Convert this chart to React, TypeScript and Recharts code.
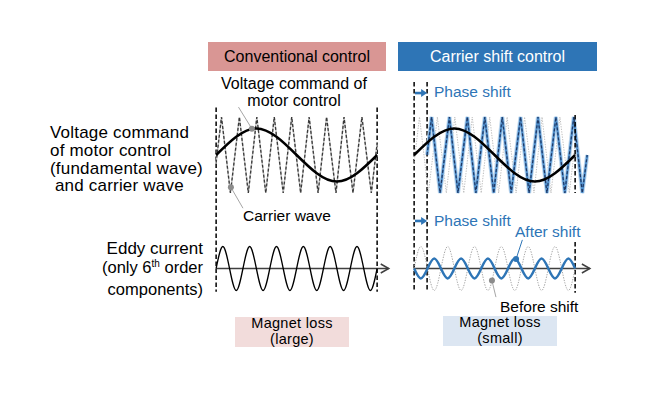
import React from 'react';
import { LineChart, Line, XAxis, YAxis, ReferenceLine, ReferenceDot } from 'recharts';

// ---------------- data (x in electrical degrees of the fundamental) ----------------
const fundDeg = [0, 90, 180, 270, 360];
const fundVal = [0, 0.7, 0, -0.7, 0];

const carrierDeg = [0, 12, 32, 52, 72, 91, 111, 130, 150, 169, 189, 208, 228, 247, 268, 286, 306, 326, 347, 360];
const carrierVal = [-0.2, 1, -1, 1, -1, 1, -1, 1, -1, 1, -1, 1, -1, 1, -1, 1, -1, 1, -1, 0.3];

const shiftedDeg = [29, 39, 58, 79, 98, 119, 138, 158, 178, 197, 217, 238, 257, 277, 297, 317, 337, 357, 376, 387];
const shiftedVal = [0, 1, -1, 1, -1, 1, -1, 1, -1, 1, -1, 1, -1, 1, -1, 1, -1, 1, -1, 0];

const eddyDeg = [0, 15, 30, 45, 60, 75, 90, 105, 120, 135, 150, 165, 180, 195, 210, 225, 240, 255, 270, 285, 300, 315, 330, 345, 360];
const eddyBefore = [0, 1, 0, -1, 0, 1, 0, -1, 0, 1, 0, -1, 0, 1, 0, -1, 0, 1, 0, -1, 0, 1, 0, -1, 0];
const eddyAfter = [0, -0.45, 0, 0.45, 0, -0.45, 0, 0.45, 0, -0.45, 0, 0.45, 0, -0.45, 0, 0.45, 0, -0.45, 0, 0.45, 0, -0.45, 0, 0.45, 0];

const PHASE_SHIFT_DEG = 29;

// text labels
const headerLabels = ['Conventional control', 'Carrier shift control'];
const leftLabelTop = ['Voltage command', 'of motor control', '(fundamental wave)', ' and carrier wave'];
const voltageLabel = ['Voltage command of', 'motor control'];
const carrierLabel = 'Carrier wave';
const phaseLabel = 'Phase shift';
const afterLabel = 'After shift';
const beforeLabel = 'Before shift';
const lossLabels = [['Magnet loss', '(large)'], ['Magnet loss', '(small)']];

// ---------------- layout ----------------
const FONT = '"Liberation Sans", Arial, Helvetica, sans-serif';
const BLUE = '#2e75b6';
const PX_PER_DEG = 161 / 360;
const DEG_MIN = -45;
const DEG_MAX = 405;
const CHART_TOP = 76;
const CHART_H = 236;
const CHART_W = (DEG_MAX - DEG_MIN) * PX_PER_DEG;
const V_CENTER = 155, V_UNIT = 38;
const I_CENTER = 268.5, I_UNIT = 22;
const V_DOMAIN: [number, number] = [(V_CENTER - (CHART_TOP + CHART_H)) / V_UNIT, (V_CENTER - CHART_TOP) / V_UNIT];
const I_DOMAIN: [number, number] = [(I_CENTER - (CHART_TOP + CHART_H)) / I_UNIT, (I_CENTER - CHART_TOP) / I_UNIT];

const rows = (deg: number[], val: number[]) => deg.map((d, k) => ({ deg: d, val: val[k] }));
const fundRows = rows(fundDeg, fundVal);
const carrierRows = rows(carrierDeg, carrierVal);
const shiftedRows = rows(shiftedDeg, shiftedVal);
const eddyBeforeRows = rows(eddyDeg, eddyBefore);
const eddyAfterRows = rows(eddyDeg, eddyAfter);

const axisArrow = (p: any) => (
  <g>
    <line x1={p.x1} y1={p.y1} x2={p.x2} y2={p.y2} stroke="#404040" strokeWidth={1.5} />
    <polyline points={`${p.x2 - 8},${p.y2 - 4.5} ${p.x2},${p.y2} ${p.x2 - 8},${p.y2 + 4.5}`} fill="none" stroke="#404040" strokeWidth={1.5} />
  </g>
);

const phaseArrow = (p: any) => (
  <g>
    <line x1={p.x1} y1={p.y1} x2={p.x2 - 5} y2={p.y2} stroke={BLUE} strokeWidth={2.6} />
    <polygon points={`${p.x2},${p.y2} ${p.x2 - 6},${p.y2 - 4} ${p.x2 - 6},${p.y2 + 4}`} fill={BLUE} />
  </g>
);

const DASH = { stroke: '#000', strokeWidth: 1.5, strokeDasharray: '4.5 2.5' };

function Panel({ x0, children }: { x0: number; children: React.ReactNode }) {
  return (
    <div style={{ position: 'absolute', left: x0 + DEG_MIN * PX_PER_DEG, top: CHART_TOP }}>
      <LineChart width={CHART_W} height={CHART_H} margin={{ top: 0, right: 0, bottom: 0, left: 0 }}>
        <XAxis type="number" dataKey="deg" domain={[DEG_MIN, DEG_MAX]} hide />
        <YAxis yAxisId="v" type="number" domain={V_DOMAIN} hide />
        <YAxis yAxisId="i" type="number" domain={I_DOMAIN} hide />
        {children}
      </LineChart>
    </div>
  );
}

function Txt({ left, cy, size, lh, color = '#000', align = 'left', width, lines, ls = 0 }: any) {
  return (
    <div
      style={{
        position: 'absolute',
        left,
        top: cy - lh / 2,
        width,
        fontSize: size,
        lineHeight: `${lh}px`,
        letterSpacing: ls,
        color,
        textAlign: align,
        whiteSpace: 'pre',
        fontFamily: FONT,
      }}
    >
      {lines.map((l: React.ReactNode, k: number) => (
        <div key={k}>{l}</div>
      ))}
    </div>
  );
}

export default function App() {
  return (
    <div style={{ position: 'absolute', left: 0, top: 0, width: 650, height: 393, background: '#fff', overflow: 'hidden', fontFamily: FONT }}>
      {/* header boxes */}
      <div style={{ position: 'absolute', left: 208, top: 42, width: 178, height: 29, background: '#d99694', color: '#000', fontSize: 16, display: 'flex', alignItems: 'center', justifyContent: 'center' }}>
        {headerLabels[0]}
      </div>
      <div style={{ position: 'absolute', left: 398, top: 42, width: 199, height: 29, background: BLUE, color: '#fff', fontSize: 16, display: 'flex', alignItems: 'center', justifyContent: 'center' }}>
        {headerLabels[1]}
      </div>

      {/* left row labels */}
      <Txt left={50} cy={133} size={17} lh={17.8} ls={0.2} lines={leftLabelTop} />
      <Txt
        left={0}
        width={203}
        align="right"
        cy={248.3}
        size={16.5}
        lh={18.3}
        lines={[
          <span style={{ fontSize: 17 }}>Eddy current</span>,
          <span>
            (only 6<span style={{ fontSize: 10, position: 'relative', top: -6 }}>th</span> order
          </span>,
          'components)',
        ]}
      />

      {/* magnet loss boxes */}
      <div style={{ position: 'absolute', left: 235, top: 317, width: 114, height: 30, background: '#f2dcdb' }} />
      <Txt left={235} width={114} align="center" cy={324} size={14.5} lh={15.2} ls={0.3} lines={lossLabels[0]} />
      <div style={{ position: 'absolute', left: 443, top: 316, width: 114, height: 30, background: '#dce6f2' }} />
      <Txt left={443} width={114} align="center" cy={323} size={14.5} lh={15.2} ls={0.3} lines={lossLabels[1]} />

      {/* conventional control */}
      <Panel x0={216}>
        <ReferenceLine yAxisId="v" segment={[{ x: 0, y: 1.25 }, { x: 0, y: -3.6 }]} {...DASH} />
        <ReferenceLine yAxisId="v" segment={[{ x: 360, y: 1.25 }, { x: 360, y: -3.6 }]} {...DASH} />
        <Line data={carrierRows} dataKey="val" yAxisId="v" type="linear" stroke="#c4c4c4" strokeWidth={1.5} dot={false} isAnimationActive={false} />
        <Line data={carrierRows} dataKey="val" yAxisId="v" type="linear" stroke="#3a3a3a" strokeWidth={1.3} strokeDasharray="3 2" dot={false} isAnimationActive={false} />
        <Line data={fundRows} dataKey="val" yAxisId="v" type="natural" stroke="#000" strokeWidth={2.5} dot={false} isAnimationActive={false} />
        <ReferenceLine yAxisId="v" segment={[{ x: 50, y: 1.26 }, { x: 80, y: 0.69 }]} stroke="#a6a6a6" strokeWidth={1} />
        <ReferenceDot yAxisId="v" x={80} y={0.69} r={3} fill="#8c8c8c" stroke="none" />
        <ReferenceLine yAxisId="v" segment={[{ x: 33, y: -0.85 }, { x: 60, y: -1.4 }]} stroke="#a6a6a6" strokeWidth={1} />
        <ReferenceDot yAxisId="v" x={33} y={-0.85} r={3} fill="#8c8c8c" stroke="none" />
        <ReferenceLine yAxisId="i" segment={[{ x: 0, y: 0 }, { x: 386, y: 0 }]} shape={axisArrow} />
        <Line data={eddyBeforeRows} dataKey="val" yAxisId="i" type="natural" stroke="#000" strokeWidth={1.3} dot={false} isAnimationActive={false} />
      </Panel>

      {/* carrier shift control */}
      <Panel x0={414}>
        <ReferenceLine yAxisId="v" segment={[{ x: 0, y: 1.92 }, { x: 0, y: -3.6 }]} {...DASH} />
        <ReferenceLine yAxisId="v" segment={[{ x: PHASE_SHIFT_DEG, y: 1.92 }, { x: PHASE_SHIFT_DEG, y: -3.6 }]} {...DASH} />
        <ReferenceLine yAxisId="v" segment={[{ x: 2, y: 1.63 }, { x: PHASE_SHIFT_DEG, y: 1.63 }]} shape={phaseArrow} />
        <Line data={carrierRows} dataKey="val" yAxisId="v" type="linear" stroke="#bfbfbf" strokeWidth={1} strokeDasharray="1.3 1.3" dot={false} isAnimationActive={false} />
        <Line data={shiftedRows} dataKey="val" yAxisId="v" type="linear" stroke="#bdd7ee" strokeWidth={4.2} dot={false} isAnimationActive={false} />
        <Line data={shiftedRows} dataKey="val" yAxisId="v" type="linear" stroke="#4f8fcc" strokeWidth={2.2} dot={false} isAnimationActive={false} />
        <Line data={shiftedRows} dataKey="val" yAxisId="v" type="linear" stroke="#1f3864" strokeWidth={1.2} strokeDasharray="3 2" dot={false} isAnimationActive={false} />
        <Line data={fundRows} dataKey="val" yAxisId="v" type="natural" stroke="#000" strokeWidth={2.5} dot={false} isAnimationActive={false} />
        <ReferenceLine yAxisId="v" segment={[{ x: 360, y: 1.05 }, { x: 360, y: -1.0 }]} {...DASH} />
        <ReferenceLine yAxisId="i" segment={[{ x: 2, y: 2.16 }, { x: PHASE_SHIFT_DEG, y: 2.16 }]} shape={phaseArrow} />
        <ReferenceLine yAxisId="i" segment={[{ x: 360, y: 1.2 }, { x: 360, y: -1.1 }]} {...DASH} />
        <ReferenceLine yAxisId="i" segment={[{ x: 0, y: 0 }, { x: 393, y: 0 }]} shape={axisArrow} />
        <Line data={eddyBeforeRows} dataKey="val" yAxisId="i" type="natural" stroke="#a6a6a6" strokeWidth={1} strokeDasharray="1.3 1.3" dot={false} isAnimationActive={false} />
        <Line data={eddyAfterRows} dataKey="val" yAxisId="i" type="natural" stroke={BLUE} strokeWidth={2.5} dot={false} isAnimationActive={false} />
        <ReferenceLine yAxisId="i" segment={[{ x: 228, y: 0.43 }, { x: 242, y: 1.3 }]} stroke={BLUE} strokeWidth={1} />
        <ReferenceDot yAxisId="i" x={228} y={0.43} r={3} fill={BLUE} stroke="none" />
        <ReferenceLine yAxisId="i" segment={[{ x: 174, y: -0.55 }, { x: 183, y: -1.3 }]} stroke="#a6a6a6" strokeWidth={1} />
        <ReferenceDot yAxisId="i" x={174} y={-0.55} r={3} fill="#8c8c8c" stroke="none" />
      </Panel>

      {/* annotations */}
      <Txt left={194} width={200} align="center" cy={83} size={16} lh={17} lines={voltageLabel} />
      <Txt left={243} cy={216} size={15.5} lh={16} lines={[carrierLabel]} />
      <Txt left={434} cy={92} size={15.5} lh={16} color={BLUE} lines={[phaseLabel]} />
      <Txt left={434} cy={221} size={15.5} lh={16} color={BLUE} lines={[phaseLabel]} />
      <Txt left={515} cy={232} size={15.5} lh={16} color={BLUE} lines={[afterLabel]} />
      <Txt left={500} cy={307} size={15.5} lh={16} lines={[beforeLabel]} />
    </div>
  );
}
